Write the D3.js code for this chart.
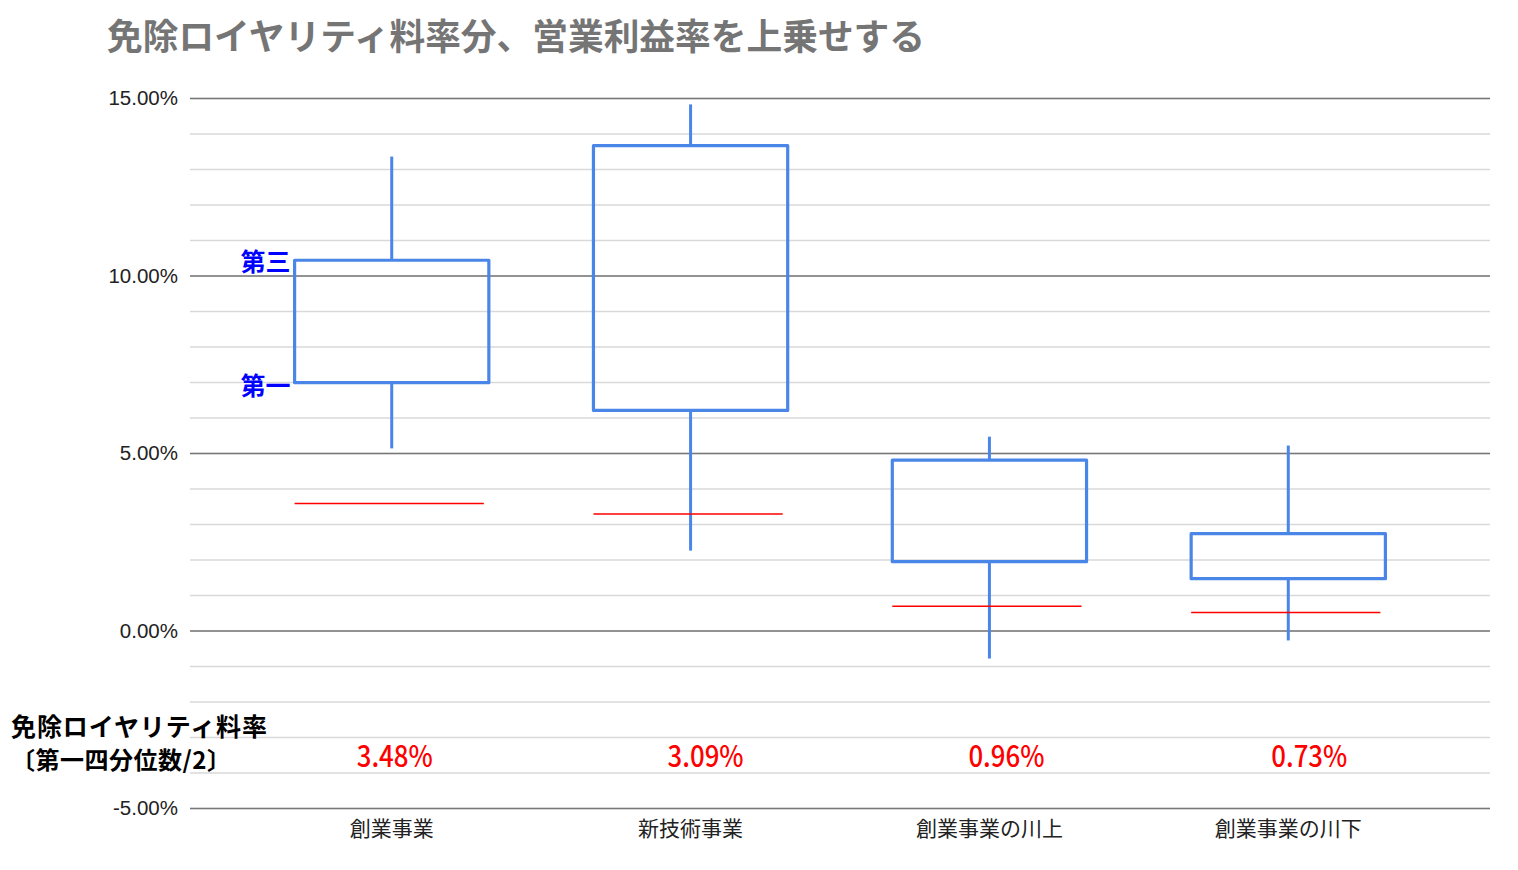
<!DOCTYPE html>
<html lang="ja">
    <head>
        <meta charset="utf-8">
        <style>
            body { margin: 0; background: #fff; }
            svg text { font-family: "Noto Sans CJK JP", "Noto Sans", sans-serif; }
            .ytick text { font-family: "Liberation Sans", Arial, sans-serif; font-size: 20.5px; fill: #222; }
            .minor line { stroke: #d9d9d9; stroke-width: 1.5px; }
            .major line { stroke: #777; stroke-width: 1.5px; }
            .box { fill: none; stroke: #4a86e8; stroke-width: 3.2px; stroke-linejoin: round; }
            .whisker { stroke: #4a86e8; stroke-width: 3px; }
            .half { stroke: #ff0000; stroke-width: 1.5px; }
        </style>
        <script src="https://d3js.org/d3.v7.min.js"></script>
        <title>免除ロイヤリティ料率分、営業利益率を上乗せする</title>
    </head>
    <body>
        <div id="chart"></div>
        <script>
            // values in percent
            var categories = ["創業事業", "新技術事業", "創業事業の川上", "創業事業の川下"];
            var whiskerLow  = [5.13, 2.25, -0.79, -0.28];
            var q1          = [6.98, 6.20, 1.94, 1.46];
            var q3          = [10.43, 13.66, 4.80, 2.73];
            var whiskerHigh = [13.35, 14.82, 5.46, 5.21];
            var redLine     = [3.58, 3.28, 0.68, 0.51];
            var royaltyLabels = ["3.48%", "3.09%", "0.96%", "0.73%"];
            var majorTicks = [-5, 0, 5, 10, 15];
            var minorTicks = d3.range(-5, 16, 1);

            var W = 1518, H = 870;
            var margin = {top: 98, right: 28, bottom: 62, left: 190};
            var width = W - margin.left - margin.right,
                height = H - margin.top - margin.bottom;

            var svg = d3.select("#chart")
                .append("svg")
                    .attr("width", W)
                    .attr("height", H);

            svg.append("text")
                .attr("x", 107)
                .attr("y", 50)
                .attr("font-size", 36)
                .attr("font-weight", "bold")
                .attr("fill", "#757575")
                .attr("textLength", 818)
                .attr("lengthAdjust", "spacingAndGlyphs")
                .text("免除ロイヤリティ料率分、営業利益率を上乗せする");

            var g = svg.append("g")
                .attr("transform", "translate(" + margin.left + "," + margin.top + ")");

            var x = d3.scaleBand()
                .domain(categories)
                .range([0, width])
                .padding(0.35);

            var y = d3.scaleLinear()
                .domain([-5, 15])
                .range([height, 0]);

            // minor grid
            g.append("g")
                .attr("class", "minor")
                .call(d3.axisLeft(y).tickValues(minorTicks).tickSize(-width).tickFormat(""))
                .call(function(a) { a.select(".domain").remove(); });

            // major grid + labels
            g.append("g")
                .attr("class", "major ytick")
                .call(d3.axisLeft(y).tickValues(majorTicks).tickSize(-width).tickPadding(12)
                    .tickFormat(function(d) { return d.toFixed(2) + "%"; }))
                .call(function(a) {
                    a.select(".domain").remove();
                    a.selectAll(".tick line")
                        .attr("stroke", function(d) { return d === 0 ? "#333" : "#777"; });
                });

            // x labels
            g.append("g")
                .attr("transform", "translate(0," + height + ")")
                .call(d3.axisBottom(x).tickSize(0).tickPadding(0))
                .call(function(a) {
                    a.select(".domain").remove();
                    a.selectAll("text")
                        .attr("dy", null)
                        .attr("y", 28)
                        .attr("font-size", 21)
                        .attr("font-family", "'Noto Sans CJK JP', sans-serif")
                        .attr("fill", "#222");
                });

            var rows = categories.map(function(c, i) {
                return {cat: c, lo: whiskerLow[i], q1: q1[i], q3: q3[i], hi: whiskerHigh[i],
                        red: redLine[i], label: royaltyLabels[i]};
            });
            var bw = x.bandwidth();

            var item = g.selectAll(".item")
                .data(rows)
                .enter()
                .append("g")
                    .attr("class", "item");

            item.append("line")
                .attr("class", "whisker")
                .attr("x1", function(d) { return x(d.cat) + bw / 2; })
                .attr("x2", function(d) { return x(d.cat) + bw / 2; })
                .attr("y1", function(d) { return y(d.hi); })
                .attr("y2", function(d) { return y(d.q3); });

            item.append("line")
                .attr("class", "whisker")
                .attr("x1", function(d) { return x(d.cat) + bw / 2; })
                .attr("x2", function(d) { return x(d.cat) + bw / 2; })
                .attr("y1", function(d) { return y(d.q1); })
                .attr("y2", function(d) { return y(d.lo); });

            item.append("rect")
                .attr("class", "box")
                .attr("x", function(d) { return x(d.cat); })
                .attr("width", bw)
                .attr("y", function(d) { return y(d.q3); })
                .attr("height", function(d) { return y(d.q1) - y(d.q3); });

            // hand drawn red line (q1 / 2)
            item.append("line")
                .attr("class", "half")
                .attr("x1", function(d) { return x(d.cat); })
                .attr("x2", function(d) { return x(d.cat) + bw - 5; })
                .attr("y1", function(d) { return y(d.red); })
                .attr("y2", function(d) { return y(d.red); });

            // red value labels under the plot
            var nudge = [3, 15, 17, 21];
            item.append("text")
                .attr("x", function(d, i) { return x(d.cat) + bw / 2 + nudge[i]; })
                .attr("y", y(-3.85))
                .attr("text-anchor", "middle")
                .attr("font-size", 29)
                .attr("font-weight", 500)
                .attr("fill", "#ff0000")
                .attr("textLength", 76)
                .attr("lengthAdjust", "spacingAndGlyphs")
                .text(function(d) { return d.label; });

            // 第三 / 第一 marks next to the first box
            var first = rows[0];
            g.append("text")
                .attr("x", x(first.cat) - 4)
                .attr("y", y(first.q3) + 11)
                .attr("text-anchor", "end")
                .attr("font-size", 25)
                .attr("font-weight", "bold")
                .attr("fill", "#0000ff")
                .text("第三");
            g.append("text")
                .attr("x", x(first.cat) - 4)
                .attr("y", y(first.q1) + 12)
                .attr("text-anchor", "end")
                .attr("font-size", 25)
                .attr("font-weight", "bold")
                .attr("fill", "#0000ff")
                .text("第一");

            // left caption
            svg.append("text")
                .attr("x", 11)
                .attr("y", 736)
                .attr("font-size", 25)
                .attr("font-weight", "bold")
                .attr("fill", "#000")
                .attr("textLength", 256)
                .attr("lengthAdjust", "spacing")
                .text("免除ロイヤリティ料率");
            svg.append("text")
                .attr("x", 11)
                .attr("y", 769)
                .attr("font-size", 24)
                .attr("font-weight", "bold")
                .attr("fill", "#000")
                .attr("textLength", 220)
                .attr("lengthAdjust", "spacing")
                .text("〔第一四分位数/2〕");
        </script>
    </body>
</html>
